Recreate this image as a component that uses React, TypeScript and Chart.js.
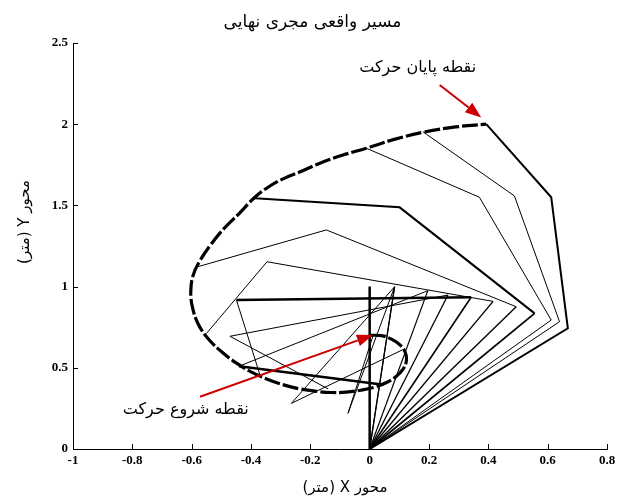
import React, { useEffect, useRef } from 'react';
import { Chart, registerables } from 'chart.js';

Chart.register(...registerables);

// ---- Data ----
const titleText = 'مسیر واقعی مجری نهایی';
const xTitle = 'محور X (متر)';
const yTitle = 'محور Y (متر)';
const endLabel = 'نقطه پایان حرکت';
const startLabel = 'نقطه شروع حرکت';

const xTicks = [-1, -0.8, -0.6, -0.4, -0.2, 0, 0.2, 0.4, 0.6, 0.8];
const xTickLabels = ['-1', '-0.8', '-0.6', '-0.4', '-0.2', '0', '0.2', '0.4', '0.6', '0.8'];
const yTicks = [0, 0.5, 1, 1.5, 2, 2.5];
const yTickLabels = ['0', '0.5', '1', '1.5', '2', '2.5'];

// arm snapshots: base -> elbow -> wrist -> end effector
const baseX = 0;
const baseY = 0;
const configNames = ['K', 'J1', 'J2', 'I', 'H', 'G', 'F', 'E', 'D', 'C', 'B', 'A'];
const elbowX = [0, 0.084, 0.084, 0.196, 0.264, 0.342, 0.416, 0.494, 0.556, 0.612, 0.64, 0.668];
const elbowY = [1.0, 0.999, 0.999, 0.975, 0.948, 0.934, 0.909, 0.876, 0.835, 0.794, 0.784, 0.743];
const wristX = [0, -0.073, -0.264, -0.44, -0.471, -0.449, -0.346, -0.146, 0.101, 0.37, 0.488, 0.612];
const wristY = [0.2, 0.22, 0.281, 0.51, 0.694, 0.917, 1.153, 1.349, 1.488, 1.55, 1.558, 1.55];
const endX = [0, 0.01, 0.11, 0.047, -0.14, -0.37, -0.55, -0.578, -0.387, -0.011, 0.179, 0.393];
const endY = [0.7, 0.69, 0.61, 0.396, 0.37, 0.457, 0.712, 1.123, 1.544, 1.852, 1.954, 2.0];

// end-effector path (start of motion -> end of motion)
const trajX = [
  0.0, 0.04, 0.075, 0.103, 0.12, 0.124, 0.112, 0.088, 0.055, 0.015, -0.03, -0.08, -0.13, -0.18,
  -0.235, -0.29, -0.345, -0.4, -0.45, -0.5, -0.545, -0.578, -0.597, -0.603, -0.595, -0.572, -0.535,
  -0.49, -0.44, -0.387, -0.34, -0.29, -0.23, -0.168, -0.09, -0.011, 0.08, 0.179, 0.29, 0.393,
];
const trajY = [
  0.7, 0.698, 0.675, 0.64, 0.595, 0.545, 0.49, 0.445, 0.408, 0.38, 0.362, 0.35, 0.348, 0.355,
  0.37, 0.395, 0.43, 0.475, 0.53, 0.6, 0.68, 0.77, 0.87, 0.97, 1.07, 1.16, 1.26,
  1.36, 1.45, 1.55, 1.615, 1.665, 1.71, 1.76, 1.81, 1.852, 1.905, 1.95, 1.983, 2.0,
];

// annotation anchors (data units)
const endArrowFrom = [0.236, 2.241];
const endArrowTo = [0.376, 2.042];
const endLabelAt = [0.162, 2.346];
const startArrowFrom = [-0.572, 0.322];
const startArrowTo = [0.011, 0.702];
const startLabelAt = [-0.62, 0.24];

// ---- Styles ----
const linkWidths: Record<string, number[]> = {
  K: [2.5, 2.5, 2.5],
  J1: [1.2, 1, 1],
  J2: [1.2, 1, 1],
  I: [1.2, 1, 2.5],
  H: [1.3, 1, 1],
  G: [1.6, 2.5, 1],
  F: [1.4, 1, 1],
  E: [1.4, 1, 1],
  D: [1.8, 2, 2],
  C: [1, 1, 1],
  B: [1, 1, 1],
  A: [2, 2, 2],
};
const RED = '#cc0000';
const ARABIC_FONT = '"DejaVu Sans", "Noto Sans", sans-serif';
const TICK_FONT = { family: '"Liberation Serif", "Times New Roman", serif', weight: 'bold' as const, size: 13 };

function drawArrow(ctx: CanvasRenderingContext2D, x1: number, y1: number, x2: number, y2: number) {
  const ang = Math.atan2(y2 - y1, x2 - x1);
  const headLen = 16;
  const headHalf = 6;
  const bx = x2 - headLen * Math.cos(ang);
  const by = y2 - headLen * Math.sin(ang);
  ctx.strokeStyle = RED;
  ctx.fillStyle = RED;
  ctx.lineWidth = 2;
  ctx.beginPath();
  ctx.moveTo(x1, y1);
  ctx.lineTo(bx, by);
  ctx.stroke();
  ctx.beginPath();
  ctx.moveTo(x2, y2);
  ctx.lineTo(bx + headHalf * Math.sin(ang), by - headHalf * Math.cos(ang));
  ctx.lineTo(bx - headHalf * Math.sin(ang), by + headHalf * Math.cos(ang));
  ctx.closePath();
  ctx.fill();
}

const overlayPlugin = {
  id: 'overlay',
  afterDraw(chart: any) {
    const { ctx, chartArea, scales } = chart;
    const xs = scales.x;
    const ys = scales.y;
    ctx.save();
    // inward tick marks
    ctx.strokeStyle = '#000';
    ctx.lineWidth = 1;
    xTicks.forEach((v) => {
      const px = Math.round(xs.getPixelForValue(v)) + 0.5;
      ctx.beginPath();
      ctx.moveTo(px, chartArea.bottom);
      ctx.lineTo(px, chartArea.bottom - 5);
      ctx.stroke();
    });
    yTicks.forEach((v) => {
      const py = Math.round(ys.getPixelForValue(v)) + 0.5;
      ctx.beginPath();
      ctx.moveTo(chartArea.left, py);
      ctx.lineTo(chartArea.left + 5, py);
      ctx.stroke();
    });

    // arrows
    drawArrow(ctx, xs.getPixelForValue(endArrowFrom[0]), ys.getPixelForValue(endArrowFrom[1]),
      xs.getPixelForValue(endArrowTo[0]), ys.getPixelForValue(endArrowTo[1]));
    drawArrow(ctx, xs.getPixelForValue(startArrowFrom[0]), ys.getPixelForValue(startArrowFrom[1]),
      xs.getPixelForValue(startArrowTo[0]), ys.getPixelForValue(startArrowTo[1]));

    // texts
    ctx.fillStyle = '#000';
    (ctx as any).direction = 'rtl';
    ctx.textAlign = 'center';
    ctx.textBaseline = 'middle';
    ctx.font = `17px ${ARABIC_FONT}`;
    ctx.fillText(titleText, chart.width / 2, 23);
    ctx.font = `16px ${ARABIC_FONT}`;
    ctx.fillText(endLabel, xs.getPixelForValue(endLabelAt[0]), ys.getPixelForValue(endLabelAt[1]));
    ctx.fillText(startLabel, xs.getPixelForValue(startLabelAt[0]), ys.getPixelForValue(startLabelAt[1]));
    ctx.font = `15px ${ARABIC_FONT}`;
    ctx.fillText(xTitle, (chartArea.left + chartArea.right) / 2 + 5, chartArea.bottom + 39);
    ctx.save();
    ctx.translate(chartArea.left - 48, (chartArea.top + chartArea.bottom) / 2 - 24);
    ctx.rotate(-Math.PI / 2);
    ctx.fillText(yTitle, 0, 0);
    ctx.restore();
    ctx.restore();
  },
};

export default function App() {
  const canvasRef = useRef<HTMLCanvasElement>(null);

  useEffect(() => {
    if (!canvasRef.current) return;
    const datasets: any[] = configNames.map((name, i) => {
      const w = linkWidths[name];
      return {
        label: name,
        data: [
          { x: baseX, y: baseY },
          { x: elbowX[i], y: elbowY[i] },
          { x: wristX[i], y: wristY[i] },
          { x: endX[i], y: endY[i] },
        ],
        showLine: true,
        borderColor: '#000',
        backgroundColor: '#000',
        borderWidth: w[0],
        pointRadius: 0,
        tension: 0,
        borderJoinStyle: 'miter',
        segment: { borderWidth: (c: any) => w[c.p0DataIndex] },
      };
    });
    datasets.push({
      label: 'path',
      data: trajX.map((x, i) => ({ x, y: trajY[i] })),
      showLine: true,
      borderColor: '#000',
      backgroundColor: '#000',
      borderWidth: 3.2,
      borderDash: [16, 3],
      pointRadius: 0,
      tension: 0.4,
    });

    const chart = new Chart(canvasRef.current, {
      type: 'scatter',
      data: { datasets },
      plugins: [overlayPlugin],
      options: {
        animation: false,
        responsive: true,
        maintainAspectRatio: false,
        events: [],
        layout: { padding: { top: 43, right: 18, left: 0, bottom: 0 } },
        plugins: { legend: { display: false }, tooltip: { enabled: false }, title: { display: false } },
        scales: {
          x: {
            type: 'linear',
            min: -1,
            max: 0.8,
            afterBuildTicks: (s: any) => { s.ticks = xTicks.map((v) => ({ value: v })); },
            afterFit: (s: any) => { s.height = 50; },
            ticks: {
              callback: (_v: any, i: number) => xTickLabels[i],
              font: TICK_FONT,
              color: '#000',
              padding: 4,
              maxRotation: 0,
              autoSkip: false,
            },
            grid: { display: false, drawTicks: false },
            border: { display: true, color: '#000', width: 1 },
          },
          y: {
            type: 'linear',
            min: 0,
            max: 2.5,
            afterBuildTicks: (s: any) => { s.ticks = yTicks.map((v) => ({ value: v })); },
            afterFit: (s: any) => { s.width = 73; },
            ticks: {
              callback: (_v: any, i: number) => yTickLabels[i],
              font: TICK_FONT,
              color: '#000',
              padding: 5,
              autoSkip: false,
            },
            grid: { display: false, drawTicks: false },
            border: { display: true, color: '#000', width: 1 },
          },
        },
      },
    });
    return () => chart.destroy();
  }, []);

  return (
    <div style={{ position: 'absolute', left: 0, top: 0, width: 625, height: 499, background: '#fff' }}>
      <canvas ref={canvasRef} />
    </div>
  );
}
